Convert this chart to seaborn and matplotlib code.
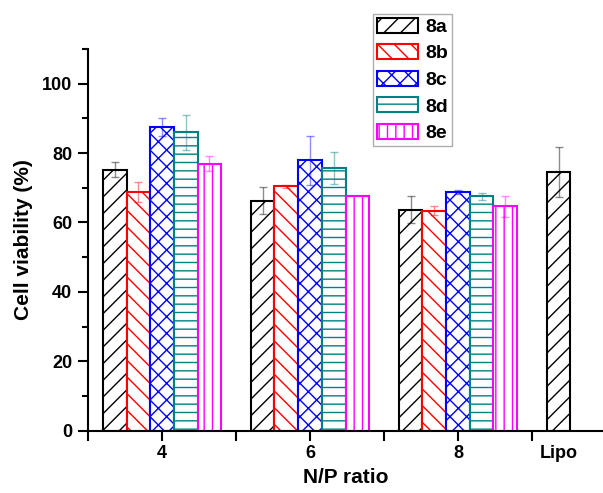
import pandas as pd
import matplotlib
matplotlib.use("Agg")
import matplotlib.pyplot as plt
import matplotlib.colors as mcolors
import seaborn as sns

# Values
ratios = ["4", "6", "8", "Lipo"]
samples = ["8a", "8b", "8c", "8d", "8e"]
viab_8a = [75.2, 66.2, 63.7, 74.5]
viab_8b = [68.7, 70.4, 63.4]
viab_8c = [87.5, 77.9, 68.7]
viab_8d = [86.0, 75.6, 67.5]
viab_8e = [76.9, 67.5, 64.6]
sd_8a = [2.1, 3.9, 3.8, 7.3]
sd_8b = [2.9, 0.4, 1.2]
sd_8c = [2.7, 7.1, 0.6]
sd_8d = [5.0, 4.6, 1.0]
sd_8e = [2.2, 0.0, 2.9]

colors = ["#000000", "#ff0000", "#0000ff", "#008080", "#ff00ff"]
hatches = ["//", "\\\\", "xx", "--", "||"]

# Build long table
rows = []
for s, vals, sds in zip(samples,
                        [viab_8a, viab_8b, viab_8c, viab_8d, viab_8e],
                        [sd_8a, sd_8b, sd_8c, sd_8d, sd_8e]):
    for r, v, e in zip(ratios, vals, sds):
        rows.append({"ratio": r, "sample": s, "viability": v, "sd": e})
df = pd.DataFrame(rows)

sns.set_style("ticks")
plt.rcParams["font.family"] = ["Liberation Sans", "DejaVu Sans"]
plt.rcParams["font.weight"] = "bold"
plt.rcParams["hatch.linewidth"] = 1.0
for key in ["text.color", "axes.labelcolor", "xtick.color", "ytick.color", "axes.edgecolor"]:
    plt.rcParams[key] = "black"

fig = plt.figure(figsize=(6.03, 4.93), dpi=100)
ax = fig.add_axes([0.146, 0.126, 0.854, 0.775])

palette = dict(zip(samples, colors))
sns.barplot(data=df, x="ratio", y="viability", hue="sample", order=ratios,
            hue_order=samples, palette=palette, saturation=1, errorbar=None,
            width=0.8, ax=ax, legend=False)

# Style the bars (sample found from the palette colour) and add error bars
rgb_list = [mcolors.to_rgb(c) for c in colors]
lipo_x = None
for bar in ax.patches:
    if bar.get_height() <= 0:
        continue
    fc = mcolors.to_rgb(bar.get_facecolor())
    i = min(range(len(colors)), key=lambda k: sum((a - b) ** 2 for a, b in zip(fc, rgb_list[k])))
    sub = df[df["sample"] == samples[i]]
    row = sub.iloc[(sub["viability"] - bar.get_height()).abs().argmin()]
    bar.set_facecolor("white")
    bar.set_edgecolor(colors[i])
    bar.set_hatch(hatches[i])
    bar.set_linewidth(1.5)
    cx = bar.get_x() + bar.get_width() / 2
    if row["ratio"] == "Lipo":
        lipo_x = cx
    if row["sd"] > 0:
        ax.errorbar(cx, bar.get_height(), yerr=row["sd"], color=colors[i], alpha=0.45,
                    elinewidth=1.0, capsize=3, capthick=1.0, zorder=3)

ax.set_ylim(0, 110)
ax.set_xlim(-0.5, 2.98)
ax.set_yticks([0, 20, 40, 60, 80, 100])
ax.set_yticks([10, 30, 50, 70, 90, 110], minor=True)
ax.set_xticks([0, 1, 2, lipo_x])
ax.set_xticklabels(["4", "6", "8", "Lipo"])
ax.set_xticks([-0.5, 0.5, 1.5, 2.5], minor=True)
ax.xaxis.get_major_ticks()[3].tick1line.set_visible(False)

ax.tick_params(axis="both", which="major", labelsize=13, width=1.5, length=7.5)
ax.tick_params(axis="x", which="minor", width=1.5, length=7.5)
ax.tick_params(axis="y", which="minor", width=1.5, length=4.5)
ax.tick_params(axis="y", pad=4)
ax.tick_params(axis="x", pad=3)
sns.despine(ax=ax)
for sp in ["left", "bottom"]:
    ax.spines[sp].set_linewidth(1.5)

ax.set_xlabel("N/P ratio", fontsize=15, fontweight="bold", labelpad=4)
ax.set_ylabel("Cell viability (%)", fontsize=15, fontweight="bold", labelpad=6)

# Legend
handles = [plt.Rectangle((0, 0), 1, 1, facecolor="white", edgecolor=c, hatch=h, linewidth=1.5)
           for c, h in zip(colors, hatches)]
fig.legend(handles, samples, loc="upper left", bbox_to_anchor=(0.618, 0.972),
           fontsize=14, frameon=True, fancybox=False, edgecolor="#999999",
           handlelength=2.15, handleheight=0.8, labelspacing=0.43, borderpad=0.2,
           handletextpad=0.35, borderaxespad=0)

fig.savefig("out.png", dpi=100)
